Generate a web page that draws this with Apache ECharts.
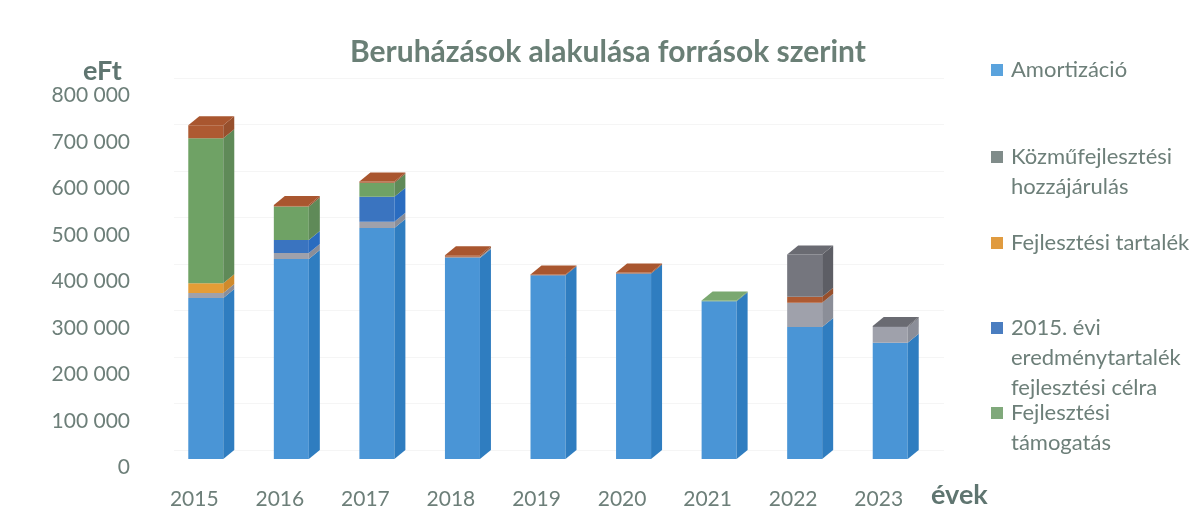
<!DOCTYPE html>
<html>
<head>
<meta charset="utf-8">
<title>Beruházások alakulása források szerint</title>
<style>
  html, body { margin: 0; padding: 0; background: #fff; }
  #chart { width: 1194px; height: 526px; }
</style>
<script src="https://cdn.jsdelivr.net/npm/echarts@6/dist/echarts.min.js"></script>
</head>
<body>
<div id="chart"></div>
<script>
const years = ['2015', '2016', '2017', '2018', '2019', '2020', '2021', '2022', '2023'];
const yTicks = [0, 100000, 200000, 300000, 400000, 500000, 600000, 700000, 800000];

// alulrol felfele, ahogy a kepen egymasra epulnek (eFt, a keprol leolvasva)
const amortizacio = [346000, 430000, 497000, 432000, 395000, 399000, 339000, 284000, 250000];
const szurke = [11000, 13000, 13000, 3000, 0, 0, 0, 52000, 34000];
const tartalek = [21000, 0, 0, 0, 0, 0, 0, 0, 0];
const eredmeny2015 = [0, 28000, 54000, 0, 0, 0, 0, 0, 0];
const tamogatas = [312000, 72000, 30000, 0, 0, 0, 2000, 0, 0];
const barna = [28000, 3000, 3000, 3000, 2000, 2000, 0, 13000, 0];
const kozmu = [0, 0, 0, 0, 0, 0, 0, 91000, 2000];

const layers = [
  { name: 'Amortizáció', values: amortizacio, front: '#4a95d6', side: '#2f7dc0', top: '#5aa3e0', legend: '#5aa3dd' },
  { name: 'Szürke', values: szurke, front: '#9fa1ab', side: '#8b8e98', top: '#aaacb5' },
  { name: 'Fejlesztési tartalék', values: tartalek, front: '#e59d36', side: '#cf8a2c', top: '#eaa949', legend: '#e09b40' },
  { name: '2015. évi eredménytartalék fejlesztési célra', values: eredmeny2015, front: '#3a74c0', side: '#2a6cc0', top: '#4a82c8', legend: '#4a7dc0' },
  { name: 'Fejlesztési támogatás', values: tamogatas, front: '#6fa265', side: '#5f8a58', top: '#7aa870', legend: '#80a97b' },
  { name: 'Barna', values: barna, front: '#ae5a32', side: '#97502d', top: '#a9562f' },
  { name: 'Közműfejlesztési hozzájárulás', values: kozmu, front: '#75767e', side: '#5d5e65', top: '#6a6b72', legend: '#808c8a' }
];

const legendLines = {
  'Amortizáció': ['Amortizáció'],
  'Közműfejlesztési hozzájárulás': ['Közműfejlesztési', 'hozzájárulás'],
  'Fejlesztési tartalék': ['Fejlesztési tartalék'],
  '2015. évi eredménytartalék fejlesztési célra': ['2015. évi', 'eredménytartalék', 'fejlesztési célra'],
  'Fejlesztési támogatás': ['Fejlesztési', 'támogatás']
};

const textColor = '#6d7f79';
const fontName = 'Lato';
const depthX = 11;
const depthY = 9;
const barWidth = 35;

function makeSeries(layer, idx) {
  const data = years.map((y, i) => {
    let base = 0;
    for (let k = 0; k < idx; k++) base += layers[k].values[i];
    let above = 0;
    for (let k = idx + 1; k < layers.length; k++) above += layers[k].values[i];
    return [i, base, base + layer.values[i], above === 0 ? 1 : 0];
  });
  return {
    name: layer.name,
    type: 'custom',
    coordinateSystem: 'cartesian2d',
    itemStyle: { color: layer.legend || layer.front },
    encode: { x: 0, y: [1, 2] },
    silent: true,
    data: data,
    renderItem: function (params, api) {
      if (api.value(1) === api.value(2)) return null;
      // a racs a hatso fal, az oszlop eleje a melyseggel elorebb van
      const b = api.coord([api.value(0), api.value(1)]);
      const t = api.coord([api.value(0), api.value(2)]);
      const x0 = b[0] - depthX - barWidth / 2;
      const x1 = x0 + barWidth;
      const y0 = b[1] + depthY;
      const y1 = t[1] + depthY;
      const shapes = [
        { type: 'rect', shape: { x: x0, y: y1, width: barWidth, height: y0 - y1 }, style: { fill: layer.front } },
        {
          type: 'polygon',
          shape: { points: [[x1, y0], [x1 + depthX, y0 - depthY], [x1 + depthX, y1 - depthY], [x1, y1]] },
          style: { fill: layer.side }
        }
      ];
      if (api.value(3) === 1) {
        shapes.push({
          type: 'polygon',
          shape: { points: [[x0, y1], [x0 + depthX, y1 - depthY], [x1 + depthX, y1 - depthY], [x1, y1]] },
          style: { fill: layer.top }
        });
      }
      return { type: 'group', children: shapes };
    }
  };
}

function makeLegend(name, top) {
  return {
    data: [name],
    left: 991,
    top: top,
    padding: 0,
    icon: 'rect',
    itemWidth: 12,
    itemHeight: 12,
    itemGap: 0,
    selectedMode: false,
    formatter: function (n) {
      // ures sorok elol, hogy a jel az elso sorhoz igazodjon
      const lines = legendLines[n];
      return new Array(lines.length - 1).fill('').concat(lines).join('\n');
    },
    textStyle: { color: textColor, fontFamily: fontName, fontSize: 22, lineHeight: 30, padding: [0, 0, 0, 3] }
  };
}

const chart = echarts.init(document.getElementById('chart'), null, { renderer: 'canvas' });

chart.setOption({
  animation: false,
  backgroundColor: '#fff',
  title: [
    {
      text: 'Beruházások alakulása források szerint',
      left: 350, top: 37, padding: 0,
      textStyle: { color: '#6a7f76', fontFamily: fontName, fontWeight: 'bold', fontSize: 30 }
    },
    {
      text: 'eFt',
      left: 83, top: 58, padding: 0,
      textStyle: { color: '#5f7570', fontFamily: fontName, fontWeight: 'bold', fontSize: 27 }
    },
    {
      text: 'évek',
      left: 931, top: 482, padding: 0,
      textStyle: { color: '#5f7570', fontFamily: fontName, fontWeight: 'bold', fontSize: 27 }
    }
  ],
  legend: [
    makeLegend('Amortizáció', 55),
    makeLegend('Közműfejlesztési hozzájárulás', 112),
    makeLegend('Fejlesztési tartalék', 228),
    makeLegend('2015. évi eredménytartalék fejlesztési célra', 253),
    makeLegend('Fejlesztési támogatás', 368)
  ],
  grid: { left: 174, width: 770, top: 78, height: 372, containLabel: false },
  xAxis: {
    type: 'category',
    data: years,
    axisLine: { show: false },
    axisTick: { show: false },
    axisLabel: {
      color: textColor, fontFamily: fontName, fontSize: 21, margin: 39,
      padding: [0, 45, 0, 0], interval: 0
    }
  },
  yAxis: {
    type: 'value',
    min: yTicks[0],
    max: yTicks[yTicks.length - 1],
    interval: yTicks[1] - yTicks[0],
    axisLine: { show: false },
    axisTick: { show: false },
    splitLine: { lineStyle: { color: '#f5f5f5', width: 1 } },
    axisLabel: {
      color: textColor, fontFamily: fontName, fontSize: 21, margin: 44,
      verticalAlign: 'top', lineHeight: 35,
      formatter: function (v) { return String(v).replace(/\B(?=(\d{3})+$)/g, ' '); }
    }
  },
  series: layers.map(makeSeries)
});
</script>
</body>
</html>
